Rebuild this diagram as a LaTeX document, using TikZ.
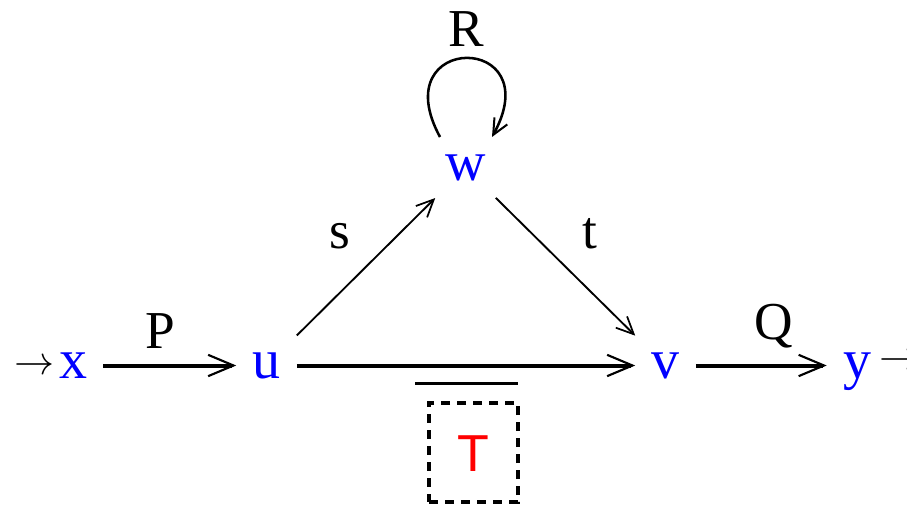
\documentclass[tikz,border=0pt]{standalone}
\usepackage{graphicx}
\usepackage{fontspec}
\setmainfont{Liberation Serif}
\newfontfamily\tsans{Liberation Sans}
\usetikzlibrary{arrows.meta}
\begin{document}
\begin{tikzpicture}[x=0.75pt,y=-0.75pt,
  vtx/.style={text=blue, font=\fontsize{42}{42}\selectfont, minimum size=45pt, inner sep=0pt, text height=18.9pt, text depth=0pt},
  lbl/.style={font=\fontsize{40}{40}\selectfont, inner sep=0pt, anchor=base},
  thickedge/.style={line width=3pt, -{Straight Barb[length=19pt,width=16pt,line width=1.6pt]}},
  thinedge/.style={line width=1.4pt, -{Straight Barb[length=13pt,width=12pt,line width=1.3pt]}},
  loopedge/.style={line width=1.9pt, -{Straight Barb[length=12pt,width=11pt,line width=1.5pt]}},
  endarrow/.style={inner sep=0pt},
  tbox/.style={draw, line width=2.3pt, dash pattern=on 7pt off 5pt, minimum width=66.75pt, minimum height=74.25pt, inner sep=0pt, text=red, font=\tsans\fontsize{39}{39}\selectfont, text height=27.9pt, text depth=0pt},
]
\clip (0,0) rectangle (907,506);
\node[vtx] (x) at (73,365.5) {x};
\node[vtx] (u) at (266.5,365.5) {u};
\node[vtx] (w) at (465.5,168) {w};
\node[vtx] (v) at (665.5,365.5) {v};
\node[vtx] (y) at (857,365.5) {y};
\node[endarrow] (in) at (34,367) {\scalebox{3}{$\rightarrow$}};
\node[endarrow, anchor=west] (out) at (879,362) {\scalebox{3}{$\rightarrow$}};
\node[lbl] (P) at (160,348) {P};
\node[lbl] (Q) at (774,339) {Q};
\node[lbl] (s) at (340,248) {s};
\node[lbl] (t) at (590,248) {t};
\node[lbl] (R) at (466,47) {R};
\node[tbox] (T) at (473.5,452.5) {T};
\draw[line width=2.25pt] (415,383.5) -- (518,383.5);
\draw[thickedge] (x) -- (u);
\draw[thickedge] (u) -- (v);
\draw[thickedge] (v) -- (y);
\draw[thinedge] (u) -- (w);
\draw[thinedge] (w) -- (v);
\coordinate (la) at (440,137);
\coordinate (lb) at (492,137);
\draw[loopedge] (la) .. controls (383,32) and (550,32) .. (lb);
\end{tikzpicture}
\end{document}
